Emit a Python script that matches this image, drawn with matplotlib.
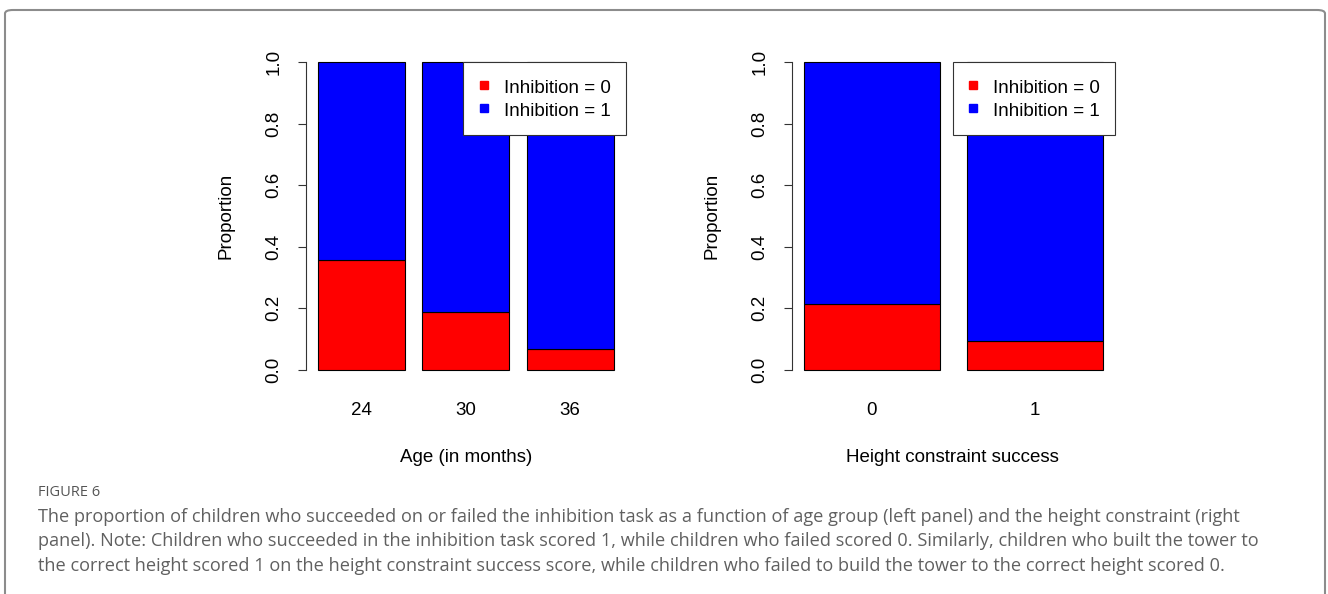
#!/usr/bin/env python
"""Stacked proportion barplots (R-style) for inhibition vs age / height constraint."""

import matplotlib
matplotlib.use("Agg")
import matplotlib.pyplot as plt
from matplotlib.lines import Line2D
from matplotlib.patches import FancyBboxPatch

# Data
age_groups = ["24", "30", "36"]
age_fail = [0.357, 0.186, 0.068]      # Inhibition = 0
age_pass = [0.643, 0.814, 0.932]      # Inhibition = 1

height_groups = ["0", "1"]
height_fail = [0.214, 0.094]
height_pass = [0.786, 0.906]

W, H = 1328, 594
DPI = 100
FS = 13.5
RED, BLUE = "#ff0000", "#0000ff"

plt.rcParams["font.family"] = ["Liberation Sans", "DejaVu Sans"]

fig = plt.figure(figsize=(W / DPI, H / DPI), dpi=DPI)


def px_axes(left, right, top, bottom):
    return fig.add_axes([left / W, 1 - bottom / H, (right - left) / W, (bottom - top) / H])


def r_barplot(ax, names, fail, passed):
    n = len(names)
    space, width = 0.2, 1.0
    lefts = [space + i * (width + space) for i in range(n)]
    centers = [l + width / 2 for l in lefts]
    ax.bar(lefts, fail, width=width, align="edge", color=RED, edgecolor="black", linewidth=0.8)
    ax.bar(lefts, passed, bottom=fail, width=width, align="edge", color=BLUE,
           edgecolor="black", linewidth=0.8)
    lo, hi = space, n * (width + space)
    ext = 0.04 * (hi - lo)
    ax.set_xlim(lo - ext, hi + ext)
    ax.set_ylim(-0.04, 1.04)
    for s in ("top", "right", "bottom"):
        ax.spines[s].set_visible(False)
    ax.spines["left"].set_bounds(0, 1)
    ax.spines["left"].set_color("#333333")
    ax.set_yticks([0, 0.2, 0.4, 0.6, 0.8, 1.0])
    ax.set_yticklabels(["0.0", "0.2", "0.4", "0.6", "0.8", "1.0"], rotation=90, va="center")
    ax.tick_params(axis="y", length=5.8, width=0.8, color="#333333", pad=11, labelsize=FS)
    ax.set_xticks(centers)
    ax.set_xticklabels(names)
    ax.tick_params(axis="x", length=0, pad=14.4, labelsize=FS)
    handles = [
        Line2D([], [], marker="s", linestyle="none", color=RED, markersize=6),
        Line2D([], [], marker="s", linestyle="none", color=BLUE, markersize=6),
    ]
    leg = ax.legend(handles, ["Inhibition = 0", "Inhibition = 1"], loc="upper right",
                    bbox_to_anchor=(hi + ext, 1.0), bbox_transform=ax.transData,
                    borderaxespad=0, fontsize=FS, frameon=True, fancybox=False,
                    framealpha=1, handlelength=0.6, handletextpad=0.75,
                    handleheight=1.2, labelspacing=0.15, borderpad=0.8)
    leg.get_frame().set_edgecolor("#333333")
    leg.get_frame().set_linewidth(0.8)


ax1 = px_axes(306, 625.6, 49.7, 382)
r_barplot(ax1, age_groups, age_fail, age_pass)
ax2 = px_axes(792, 1115, 49.7, 382)
r_barplot(ax2, height_groups, height_fail, height_pass)

# axis titles
fig.text(226 / W, 1 - 216 / H, "Proportion", rotation=90, ha="center", va="center", fontsize=FS)
fig.text(712 / W, 1 - 216 / H, "Proportion", rotation=90, ha="center", va="center", fontsize=FS)
fig.text(466 / W, 1 - 457 / H, "Age (in months)", ha="center", va="center", fontsize=FS)
fig.text(952 / W, 1 - 457 / H, "Height constraint success", ha="center", va="center", fontsize=FS)

# caption
GREY = "#606060"
fig.text(38 / W, 1 - 492 / H, "FIGURE 6", ha="left", va="center", fontsize=10.5,
         color="#555555", family=["Open Sans", "DejaVu Sans"])
caption = [
    "The proportion of children who succeeded on or failed the inhibition task as a function of age group (left panel) and the height constraint (right",
    "panel). Note: Children who succeeded in the inhibition task scored 1, while children who failed scored 0. Similarly, children who built the tower to",
    "the correct height scored 1 on the height constraint success score, while children who failed to build the tower to the correct height scored 0.",
]
for i, line in enumerate(caption):
    fig.text(38 / W, 1 - (517 + i * 24.5) / H, line, ha="left", va="center", fontsize=13.1,
             color=GREY, family=["Open Sans", "DejaVu Sans"])

# outer rounded frame
frame = FancyBboxPatch((5 / W, -0.05), (1320 / W), (1 - 10 / H) + 0.05,
                       boxstyle="round,pad=0,rounding_size=0.006", transform=fig.transFigure,
                       facecolor="none", edgecolor="#8c8c8c", linewidth=1.5, clip_on=False)
fig.patches.append(frame)

fig.savefig("out.png", dpi=DPI)
plt.close(fig)
